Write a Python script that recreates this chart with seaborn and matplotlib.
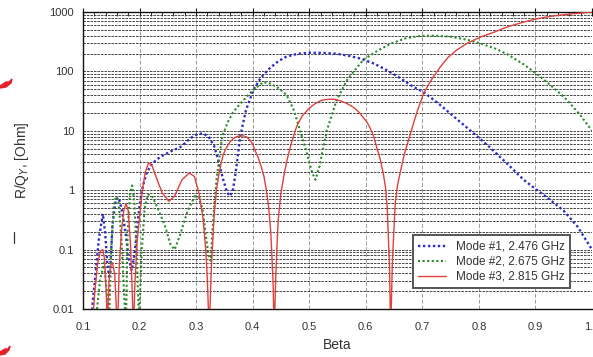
import numpy as np
import pandas as pd
import seaborn as sns
import matplotlib
matplotlib.use("Agg")
import matplotlib.pyplot as plt
from matplotlib.ticker import LogLocator, MultipleLocator, FixedLocator, FuncFormatter, NullFormatter
from matplotlib.patches import Polygon

# ---- data: R/Q_Y versus beta for three modes ----
beta_m1 = [0.115, 0.121, 0.128, 0.135, 0.139, 0.143, 0.146, 0.148, 0.152, 0.158, 0.163,
           0.168, 0.175, 0.181, 0.186, 0.191, 0.196, 0.200, 0.206, 0.213, 0.222, 0.236,
           0.255, 0.272, 0.290, 0.302, 0.312, 0.322, 0.332, 0.340, 0.348, 0.355, 0.360,
           0.365, 0.370, 0.378, 0.388, 0.401, 0.415, 0.431, 0.446, 0.460, 0.480, 0.502,
           0.525, 0.549, 0.570, 0.590, 0.615, 0.637, 0.660, 0.684, 0.702, 0.730, 0.760,
           0.790, 0.820, 0.850, 0.879, 0.900, 0.925, 0.950, 0.975, 1.000]
rq_m1 = [0.008, 0.03, 0.15, 0.40, 0.2, 0.06, 0.035, 0.04, 0.25, 0.7, 0.75,
         0.5, 0.2, 0.07, 0.045, 0.08, 0.25, 0.55, 1.2, 2.0, 2.8, 3.6,
         4.5, 5.3, 7.5, 8.8, 9.0, 8.0, 5.5, 3.0, 1.5, 0.9, 0.8,
         1.0, 2.0, 8, 22, 48, 80, 115, 150, 178, 198, 206,
         205, 198, 183, 165, 135, 105, 78, 55, 45, 28, 16,
         9.2, 5.2, 2.8, 1.5, 1.05, 0.7, 0.45, 0.24, 0.1]

beta_m2 = [0.123, 0.130, 0.137, 0.142, 0.146, 0.150, 0.154, 0.158, 0.163, 0.168, 0.173,
           0.176, 0.179, 0.183, 0.187, 0.191, 0.195, 0.199, 0.204, 0.209, 0.215, 0.222,
           0.232, 0.245, 0.255, 0.262, 0.272, 0.285, 0.298, 0.305, 0.312, 0.318, 0.323,
           0.326, 0.330, 0.336, 0.346, 0.356, 0.366, 0.380, 0.400, 0.419, 0.432, 0.446,
           0.460, 0.473, 0.484, 0.495, 0.505, 0.511, 0.518, 0.531, 0.548, 0.567, 0.596,
           0.620, 0.643, 0.670, 0.696, 0.720, 0.749, 0.780, 0.803, 0.830, 0.850, 0.880,
           0.909, 0.935, 0.956, 0.980, 1.000]
rq_m2 = [0.007, 0.03, 0.06, 0.02, 0.006, 0.1, 0.5, 0.78, 0.6, 0.15, 0.015,
         0.006, 0.2, 0.9, 1.2, 0.6, 0.08, 0.006, 0.1, 0.5, 0.85, 0.8,
         0.5, 0.25, 0.12, 0.1, 0.18, 0.45, 0.8, 0.75, 0.45, 0.15, 0.07,
         0.065, 0.3, 1.5, 8, 14, 21, 30, 48, 66, 62, 52,
         40, 22, 10, 4.5, 2.0, 1.5, 2.5, 10, 32, 72, 158,
         220, 290, 360, 395, 400, 385, 340, 295, 240, 195, 130,
         81, 50, 33, 18, 10]

beta_m3 = [0.117, 0.121, 0.126, 0.131, 0.135, 0.138, 0.141, 0.143, 0.146, 0.149, 0.152,
           0.156, 0.159, 0.161, 0.164, 0.168, 0.172, 0.176, 0.180, 0.184, 0.187, 0.189,
           0.192, 0.196, 0.200, 0.205, 0.210, 0.216, 0.222, 0.230, 0.240, 0.252, 0.262,
           0.275, 0.288, 0.297, 0.305, 0.312, 0.317, 0.320, 0.323, 0.327, 0.332, 0.336,
           0.340, 0.344, 0.348, 0.354, 0.360, 0.366, 0.372, 0.378, 0.384, 0.390, 0.395,
           0.400, 0.405, 0.410, 0.415, 0.420, 0.425, 0.428, 0.432, 0.436, 0.438, 0.441,
           0.445, 0.450, 0.455, 0.460, 0.468, 0.478, 0.488, 0.500, 0.510, 0.520, 0.528,
           0.537, 0.546, 0.555, 0.566, 0.578, 0.587, 0.595, 0.602, 0.608, 0.614, 0.620,
           0.626, 0.631, 0.635, 0.638, 0.642, 0.644, 0.647, 0.652, 0.656, 0.661, 0.668,
           0.679, 0.690, 0.702, 0.715, 0.732, 0.745, 0.761, 0.780, 0.803, 0.825, 0.850,
           0.875, 0.900, 0.925, 0.950, 0.975, 1.000]
rq_m3 = [0.006, 0.02, 0.06, 0.095, 0.1, 0.07, 0.02, 0.005, 0.03, 0.055, 0.06,
         0.04, 0.01, 0.004, 0.05, 0.2, 0.45, 0.6, 0.45, 0.12, 0.02, 0.004,
         0.03, 0.15, 0.35, 1.0, 2.0, 2.9, 2.6, 1.6, 0.9, 0.65, 0.8,
         1.5, 1.95, 1.7, 0.9, 0.35, 0.1, 0.03, 0.004, 0.05, 0.4, 1.0,
         1.8, 2.8, 4.0, 5.3, 6.5, 7.4, 8.0, 8.2, 8.2, 7.8, 7.0,
         6.0, 4.5, 3.5, 2.5, 1.7, 0.9, 0.55, 0.2, 0.03, 0.004, 0.04,
         0.3, 0.9, 1.7, 3.0, 6.0, 12, 18, 24, 28.5, 32, 33.5,
         34, 33.8, 32, 29, 25, 21, 17, 14, 11, 8, 5,
         3.2, 1.9, 1.1, 0.5, 0.05, 0.004, 0.06, 0.6, 1.2, 2.0, 4.0,
         9, 20, 42, 70, 120, 170, 230, 300, 380, 450, 560,
         660, 760, 840, 900, 950, 1000]

mode_labels = ["Mode #1, 2.476 GHz", "Mode #2, 2.675 GHz", "Mode #3, 2.815 GHz"]
y_ticks = [0.01, 0.1, 1, 10, 100, 1000]
y_tick_labels = ["0.01", "0.1", "1", "10", "100", "1000"]
x_ticks = [0.1, 0.2, 0.3, 0.4, 0.5, 0.6, 0.7, 0.8, 0.9, 1.0]

frames = []
for lab, b, r in zip(mode_labels, [beta_m1, beta_m2, beta_m3], [rq_m1, rq_m2, rq_m3]):
    frames.append(pd.DataFrame({"Beta": b, "RQ": r, "Mode": lab}))
df = pd.concat(frames, ignore_index=True)

sns.set_style("white")
plt.rcParams["font.family"] = ["Liberation Sans", "DejaVu Sans"]

fig = plt.figure(figsize=(5.93, 3.57), dpi=100)
W, H = 593, 357
ax = fig.add_axes([83 / W, (H - 309) / H, 509 / W, 297 / H])

styles = {
    mode_labels[0]: dict(color="#2c2cc8", lw=1.7, ls=(0, (1, 1.1))),
    mode_labels[1]: dict(color="#2a8a2a", lw=1.5, ls=(0, (1, 1.2))),
    mode_labels[2]: dict(color="#e0403c", lw=1.0, ls="-"),
}
for lab in mode_labels:
    st = styles[lab]
    sns.lineplot(data=df[df["Mode"] == lab], x="Beta", y="RQ", ax=ax,
                 color=st["color"], linewidth=st["lw"], linestyle=st["ls"],
                 label=lab, estimator=None, sort=False, zorder=3)

ax.set_yscale("log")
ax.set_xlim(0.1, 1.0)
ax.set_ylim(0.01, 1000)

ax.yaxis.set_major_locator(FixedLocator(y_ticks))
ax.set_yticklabels(y_tick_labels)
ax.yaxis.set_minor_locator(LogLocator(base=10, subs=np.arange(2, 10)))
ax.yaxis.set_minor_formatter(NullFormatter())
ax.xaxis.set_major_locator(FixedLocator(x_ticks))
ax.xaxis.set_major_formatter(FuncFormatter(lambda v, p: f"{v:.1f}"))
ax.xaxis.set_minor_locator(MultipleLocator(0.02))

# grid: dashed horizontal lines at every decade subdivision, lighter verticals at majors
ax.grid(which="both", axis="y", color="#2a2a2a", lw=0.6, ls=(0, (3, 1.2)), zorder=1)
ax.grid(which="major", axis="x", color="#9a9a9a", lw=0.7, ls=(0, (4, 2)), zorder=1)
ax.set_axisbelow(True)

for side in ["left", "bottom", "top"]:
    ax.spines[side].set_color("#111111")
    ax.spines[side].set_linewidth(1.0)
ax.spines["right"].set_visible(False)

ax.tick_params(axis="both", which="major", direction="inout", length=6, width=0.8,
               color="#111111", labelsize=8, labelcolor="#333333", top=True)
ax.tick_params(axis="both", which="minor", direction="in", length=3, width=0.6,
               color="#111111", top=True)
ax.tick_params(axis="x", which="major", pad=6)

ax.set_xlabel("Beta", fontsize=10, color="#333333", labelpad=5)
ax.set_ylabel("R/Q$_{Y}$, [Ohm]", fontsize=10, color="#333333", labelpad=13)

leg = ax.legend(loc="lower right", bbox_to_anchor=((570 - 83) / 509, (309 - 288) / 297),
                borderaxespad=0, fontsize=8.5, frameon=True, fancybox=False,
                handlelength=2.4, handletextpad=0.8, labelspacing=0.25,
                borderpad=0.45, labelcolor="#333333")
leg.get_frame().set_edgecolor("#555555")
leg.get_frame().set_linewidth(1.4)
leg.get_frame().set_facecolor("white")
leg.get_frame().set_alpha(1)

# page marks at the left margin
def px(pts):
    return [(x / W, 1 - y / H) for x, y in pts]

fig.patches.append(Polygon(px([(0, 86), (6, 82), (9, 82), (12, 79), (11, 83), (6, 87), (0, 88)]),
                           closed=True, color="#e8202a", transform=fig.transFigure))
fig.patches.append(Polygon(px([(0, 352), (5, 349), (8, 349), (10, 346), (9, 350), (5, 354), (0, 355)]),
                           closed=True, color="#e8202a", transform=fig.transFigure))
fig.lines.append(plt.Line2D([14 / W, 14 / W], [1 - 232 / H, 1 - 243 / H],
                            color="#333333", lw=0.9, transform=fig.transFigure))

fig.savefig("out.png", dpi=100)
